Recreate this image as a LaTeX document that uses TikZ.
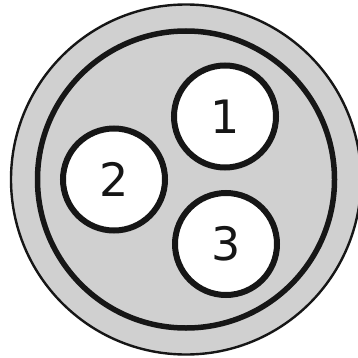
\documentclass[tikz,border=0pt]{standalone}
\usepackage{fontspec}
\setmainfont{DejaVu Sans}
\usetikzlibrary{positioning}
\definecolor{ink}{HTML}{161616}
\definecolor{shellgray}{HTML}{D0D0D0}
\tikzset{
  shell/.style={circle, draw=ink, fill=shellgray, line width=2.4pt, inner sep=0pt},
  ring/.style={circle, draw=ink, line width=5.5pt, inner sep=0pt},
  core/.style={circle, draw=ink, fill=white, line width=6pt, inner sep=0pt,
               minimum size=102pt, font=\fontsize{46}{46}\selectfont, text=ink},
}

\begin{document}
\begin{tikzpicture}[x=1pt, y=1pt]
  \clip (0,0) rectangle (358,357);
  \useasboundingbox (0,0) rectangle (358,357);
  \node[shell, minimum size=350pt] (jacket) at (186,177.5) {};
  \node[ring, minimum size=297pt] (sheath) at (jacket.center) {};
  \node[core] (c2) at (114,177.5) {2};
  \node[core] (c1) at (225,240.5) {1};
  \node[core] (c3) at (226,113) {3};
\end{tikzpicture}
\end{document}
